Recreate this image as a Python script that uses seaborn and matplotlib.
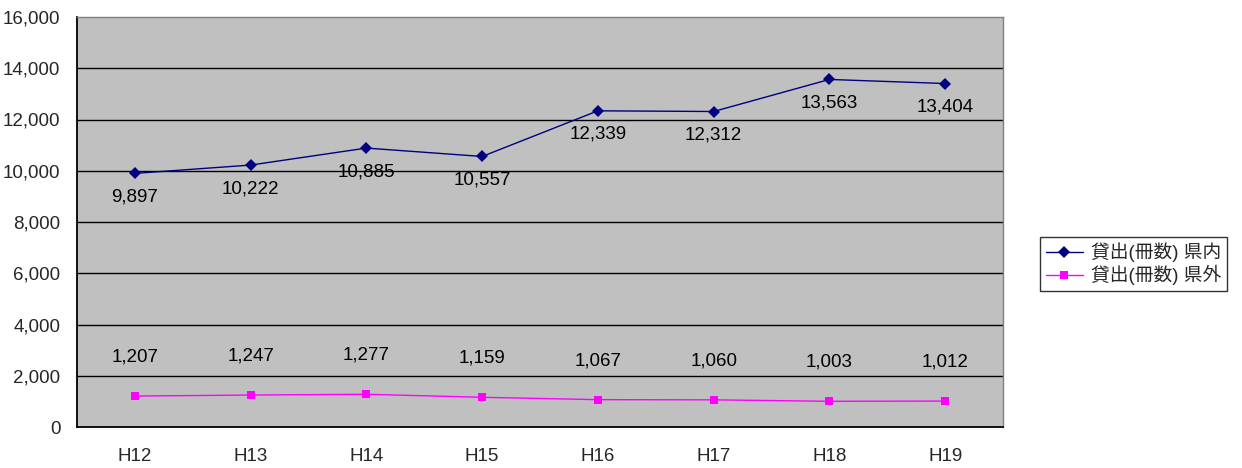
import matplotlib
matplotlib.use("Agg")
import matplotlib.pyplot as plt
import numpy as np
import pandas as pd
import seaborn as sns

# data
years = ["H12", "H13", "H14", "H15", "H16", "H17", "H18", "H19"]
loans_in = [9897, 10222, 10885, 10557, 12339, 12312, 13563, 13404]
loans_out = [1207, 1247, 1277, 1159, 1067, 1060, 1003, 1012]
series_names = ["貸出(冊数) 県内", "貸出(冊数) 県外"]
y_ticks = list(range(0, 16001, 2000))

sns.set_theme(style="white")
plt.rcParams["font.family"] = ["Liberation Sans", "Noto Sans CJK JP", "DejaVu Sans"]

FS = 13.5

df = pd.DataFrame({
    "pos": list(range(len(years))) * 2,
    "value": loans_in + loans_out,
    "series": [series_names[0]] * len(years) + [series_names[1]] * len(years),
})

fig = plt.figure(figsize=(12.42, 4.68), dpi=100)
ax = fig.add_axes([77 / 1242, 1 - 427 / 468, 926 / 1242, 410 / 468])
ax.set_facecolor("#C0C0C0")

sns.lineplot(
    data=df, x="pos", y="value", hue="series", style="series",
    palette=["#000080", "#FF00FF"], markers=["D", "s"], dashes=False,
    markersize=6, linewidth=1.0, markeredgewidth=0, ax=ax,
)

# value labels
for i, v in enumerate(loans_in):
    ax.annotate(f"{v:,}", (i, v), xytext=(0, -17), textcoords="offset points",
                ha="center", va="center", fontsize=FS, color="black")
for i, v in enumerate(loans_out):
    ax.annotate(f"{v:,}", (i, v), xytext=(0, 28), textcoords="offset points",
                ha="center", va="center", fontsize=FS, color="black")

ax.set_xlim(-0.5, len(years) - 0.5)
ax.set_ylim(0, 16000)
ax.set_yticks(y_ticks)
ax.set_yticklabels([f"{t:,}" for t in y_ticks], fontsize=FS)
ax.set_xticks(range(len(years)))
ax.set_xticklabels(years, fontsize=FS)
ax.set_xticks(np.arange(-0.5, len(years)), minor=True)
ax.tick_params(axis="x", which="major", length=0, pad=15)
ax.tick_params(axis="x", which="minor", direction="in", length=7, width=1, color="black")
ax.tick_params(axis="y", length=4, width=1, direction="out", color="black", pad=8)
ax.set_xlabel("")
ax.set_ylabel("")

for y in y_ticks[1:-1]:
    ax.axhline(y, color="black", linewidth=1.0, zorder=1)

for side in ["left", "bottom"]:
    ax.spines[side].set_color("black")
    ax.spines[side].set_linewidth(1.3)
for side in ["top", "right"]:
    ax.spines[side].set_color("#808080")
    ax.spines[side].set_linewidth(1.0)

leg = ax.legend(
    loc="center left", bbox_to_anchor=(1040 / 1242, 1 - 264 / 468),
    bbox_transform=fig.transFigure, fontsize=FS, frameon=True,
    fancybox=False, edgecolor="black", borderpad=0.3, handlelength=2.0,
    handletextpad=0.4, labelspacing=0.15, borderaxespad=0,
)
leg.get_frame().set_linewidth(1.0)

fig.savefig("out.png", dpi=100)
